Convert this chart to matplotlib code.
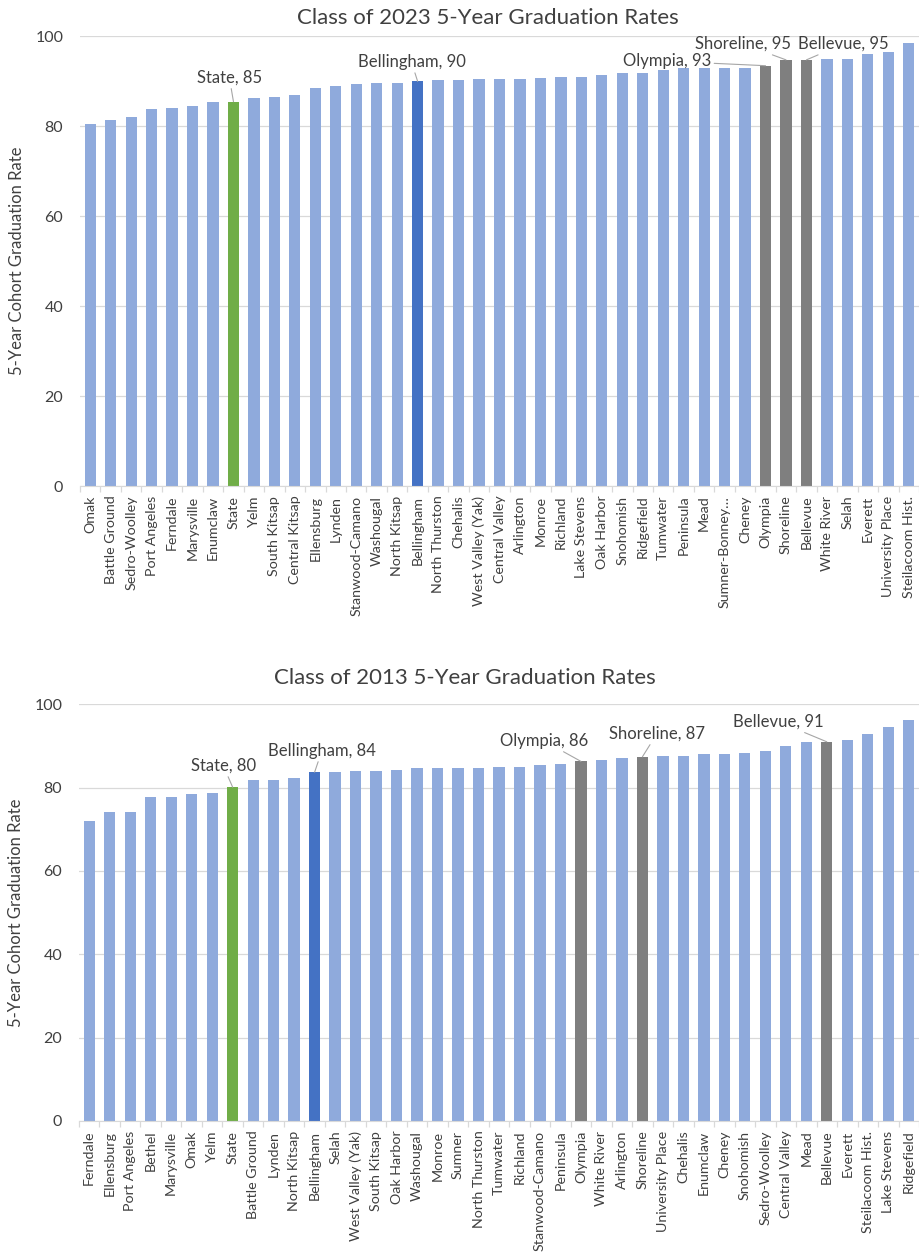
import matplotlib
matplotlib.use("Agg")
import matplotlib.pyplot as plt
import numpy as np

plt.rcParams['font.family'] = ['Lato', 'DejaVu Sans']

# Class of 2023 data
districts_2023 = ['Omak', 'Battle Ground', 'Sedro-Woolley', 'Port Angeles', 'Ferndale',
                  'Marysville', 'Enumclaw', 'State', 'Yelm', 'South Kitsap', 'Central Kitsap',
                  'Ellensburg', 'Lynden', 'Stanwood-Camano', 'Washougal', 'North Kitsap',
                  'Bellingham', 'North Thurston', 'Chehalis', 'West Valley (Yak)',
                  'Central Valley', 'Arlington', 'Monroe', 'Richland', 'Lake Stevens',
                  'Oak Harbor', 'Snohomish', 'Ridgefield', 'Tumwater', 'Peninsula', 'Mead',
                  'Sumner-Bonney…', 'Cheney', 'Olympia', 'Shoreline', 'Bellevue',
                  'White River', 'Selah', 'Everett', 'University Place', 'Steilacoom Hist.']
rates_2023 = [80.4, 81.3, 81.9, 83.8, 84.1, 84.4, 85.3, 85.4, 86.2, 86.5, 86.8,
              88.4, 89.0, 89.3, 89.6, 89.6, 89.9, 90.2, 90.2, 90.4, 90.4, 90.4,
              90.7, 91.0, 91.0, 91.3, 91.7, 91.7, 92.5, 92.8, 92.8, 92.8, 92.8,
              93.4, 94.7, 94.7, 94.9, 94.9, 95.9, 96.5, 98.4]

# Class of 2013 data
districts_2013 = ['Ferndale', 'Ellensburg', 'Port Angeles', 'Bethel', 'Marysville', 'Omak',
                  'Yelm', 'State', 'Battle Ground', 'Lynden', 'North Kitsap', 'Bellingham',
                  'Selah', 'West Valley (Yak)', 'South Kitsap', 'Oak Harbor', 'Washougal',
                  'Monroe', 'Sumner', 'North Thurston', 'Tumwater', 'Richland',
                  'Stanwood-Camano', 'Peninsula', 'Olympia', 'White River', 'Arlington',
                  'Shoreline', 'University Place', 'Chehalis', 'Enumclaw', 'Cheney',
                  'Snohomish', 'Sedro-Woolley', 'Central Valley', 'Mead', 'Bellevue',
                  'Everett', 'Steilacoom Hist.', 'Lake Stevens', 'Ridgefield']
rates_2013 = [71.9, 74.2, 74.2, 77.8, 77.8, 78.5, 78.8, 80.1, 81.8, 81.8, 82.4, 83.7,
              83.7, 84.0, 84.0, 84.3, 84.6, 84.6, 84.6, 84.6, 85.0, 85.0, 85.4, 85.7,
              86.3, 86.7, 87.0, 87.4, 87.5, 87.5, 88.0, 88.0, 88.3, 88.7, 90.0, 91.0,
              91.0, 91.4, 92.9, 94.6, 96.2]

highlight = {'State': '#70ad47', 'Bellingham': '#4472c4',
             'Olympia': '#7f7f7f', 'Shoreline': '#7f7f7f', 'Bellevue': '#7f7f7f'}
base_color = '#8faadc'

# label text position (x, y in data units) for each highlighted bar
labels_2023 = {'State': (6.8, 90.7), 'Bellingham': (15.7, 94.2), 'Olympia': (28.2, 94.4),
               'Shoreline': (31.9, 98.2), 'Bellevue': (36.8, 98.2)}
labels_2013 = {'State': (6.55, 85.2), 'Bellingham': (11.35, 88.8), 'Olympia': (22.2, 91.2),
               'Shoreline': (27.7, 92.9), 'Bellevue': (33.65, 95.8)}

fig = plt.figure(figsize=(9.19, 12.58), dpi=100)


def draw_chart(rect, names, values, label_pos, xlim, title, title_xy):
    ax = fig.add_axes(rect)
    x = np.arange(len(names))
    colors = [highlight.get(n, base_color) for n in names]
    ax.bar(x, values, width=0.55, color=colors, zorder=3)

    ax.set_ylim(0, 100)
    ax.set_xlim(*xlim)
    ax.set_yticks([0, 20, 40, 60, 80, 100])
    ax.yaxis.grid(True, color='#d9d9d9', lw=0.9, zorder=0)
    ax.tick_params(axis='y', length=0, pad=12, labelsize=11.5, labelcolor='#404040')
    for s in ['top', 'right', 'left']:
        ax.spines[s].set_visible(False)
    ax.spines['bottom'].set_color('#d9d9d9')
    ax.spines['bottom'].set_zorder(4)

    ax.set_xticks(x)
    ax.set_xticklabels(names, rotation=90, fontsize=10.3, color='#404040')
    ax.tick_params(axis='x', length=0, pad=7)
    ax.set_xticks(np.arange(-0.5, len(names), 1), minor=True)
    ax.tick_params(axis='x', which='minor', length=4, color='#d9d9d9', width=0.9)

    ax.set_ylabel('5-Year Cohort Graduation Rate', fontsize=12, color='#404040')
    ax.yaxis.set_label_coords(-0.066, 0.5)

    for name, (tx, ty) in label_pos.items():
        i = names.index(name)
        ax.annotate(f'{name}, {round(values[i])}', xy=(i, values[i]), xytext=(tx, ty),
                    ha='center', va='center', fontsize=12, color='#404040',
                    arrowprops=dict(arrowstyle='-', color='#a6a6a6', lw=0.8,
                                    shrinkA=0, shrinkB=0), zorder=5)

    fig.text(title_xy[0], title_xy[1], title, ha='center', va='center',
             fontsize=16, color='#404040')
    return ax


draw_chart([80 / 919, 1 - 486 / 1258, 839 / 919, 450 / 1258],
           districts_2023, rates_2023, labels_2023, (-0.5, 40.1),
           'Class of 2023 5-Year Graduation Rates', (488 / 919, 1 - 18 / 1258))

draw_chart([79 / 919, 1 - 1121 / 1258, 840 / 919, 416.7 / 1258],
           districts_2013, rates_2013, labels_2013, (-0.45, 40.01),
           'Class of 2013 5-Year Graduation Rates', (465 / 919, 1 - 678 / 1258))

fig.savefig('out.png', dpi=100)
